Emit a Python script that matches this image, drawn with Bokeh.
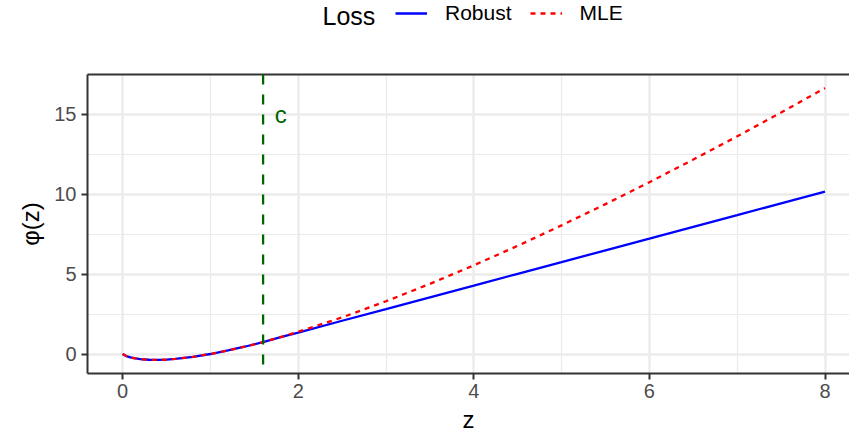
from bokeh.plotting import figure
from bokeh.models import (ColumnDataSource, FixedTicker, Label, Legend, LegendItem, Range1d,
                          LinearAxis, Span)
from bokeh.layouts import column
from bokeh.embed import file_html
from bokeh.resources import INLINE

# ---- data ----
z_vals = [0.0, 0.05, 0.1, 0.2, 0.3, 0.4, 0.5, 0.6, 0.8, 1.0, 1.2, 1.4, 1.6, 1.8, 2.0,
          2.5, 3.0, 3.5, 4.0, 4.5, 5.0, 5.5, 6.0, 6.5, 7.0, 7.5, 8.0]
mle_vals = [0.0, -0.15, -0.23, -0.32, -0.36, -0.37, -0.35, -0.31, -0.18, 0.0, 0.22, 0.47,
            0.75, 1.06, 1.39, 2.29, 3.30, 4.39, 5.55, 6.77, 8.05, 9.38, 10.75, 12.17,
            13.62, 15.11, 16.64]
robust_vals = [0.0, -0.15, -0.23, -0.32, -0.36, -0.37, -0.35, -0.31, -0.18, 0.0, 0.22, 0.47,
               0.75, 1.05, 1.34, 2.08, 2.81, 3.55, 4.28, 5.02, 5.75, 6.49, 7.22, 7.96,
               8.69, 9.43, 10.16]
c_value = 1.6
c_label = "c"
c_label_pos = [1.8, 15.0]
x_ticks = [0, 2, 4, 6, 8]
x_minor = [1, 3, 5, 7]
y_ticks = [0, 5, 10, 15]
y_minor = [2.5, 7.5, 12.5]
series_names = ["Robust", "MLE"]
series_colors = ["blue", "red"]
series_dash = ["solid", "5 5"]
legend_title = "Loss"

FONT = "Liberation Sans"
BORDER = "#333333"
LW = 2.3
FRAME_LEFT = 87

# ---------------- legend strip ----------------
LEG_H = 64
pl = figure(width=849, height=LEG_H, output_backend="svg", toolbar_location=None,
            x_axis_type=None, y_axis_type=None, x_range=Range1d(0, 1), y_range=Range1d(0, 1),
            min_border_left=0, min_border_right=0, min_border_top=0, min_border_bottom=0)
pl.outline_line_color = None
pl.xgrid.visible = False
pl.ygrid.visible = False
nan = float("nan")
leg_rends = []
for col, dash in zip(series_colors, series_dash):
    leg_rends.append(pl.line(x=[nan, nan], y=[nan, nan], line_color=col, line_width=LW,
                             line_dash=dash))
legend = Legend(items=[LegendItem(label=n, renderers=[r]) for n, r in zip(series_names, leg_rends)],
                orientation="horizontal", location=(395 - FRAME_LEFT, LEG_H - 25),
                border_line_color=None, background_fill_alpha=0,
                padding=0, margin=0, spacing=18, label_standoff=18,
                glyph_width=32, glyph_height=20, label_height=20,
                label_text_font=FONT, label_text_font_size="21px",
                label_text_color="black", label_text_baseline="middle")
pl.add_layout(legend)
pl.add_layout(Label(x=322 - FRAME_LEFT, y=LEG_H - 15, x_units="screen", y_units="screen",
                    text=legend_title, text_font=FONT, text_font_size="25px",
                    text_color="black", text_baseline="middle"))

# ---------------- main panel ----------------
src = ColumnDataSource(dict(z=z_vals, mle=mle_vals, robust=robust_vals))
p = figure(width=849, height=436 - LEG_H, output_backend="svg", toolbar_location=None,
           x_range=Range1d(-0.4, 8.279), y_range=Range1d(-1.22, 17.49),
           min_border_left=FRAME_LEFT, min_border_right=0, min_border_top=74 - LEG_H,
           min_border_bottom=63)
p.outline_line_color = None
p.background_fill_color = "white"

p.xgrid.ticker = FixedTicker(ticks=x_ticks, minor_ticks=x_minor)
p.ygrid.ticker = FixedTicker(ticks=y_ticks, minor_ticks=y_minor)
for g in (p.xgrid, p.ygrid):
    g.grid_line_color = "#EBEBEB"
    g.grid_line_width = LW
    g.minor_grid_line_color = "#EBEBEB"
    g.minor_grid_line_width = 1.2

p.xaxis.ticker = FixedTicker(ticks=x_ticks, minor_ticks=x_minor)
p.yaxis.ticker = FixedTicker(ticks=y_ticks, minor_ticks=y_minor)
for ax in (p.xaxis, p.yaxis):
    ax.axis_line_color = BORDER
    ax.axis_line_width = 2
    ax.major_tick_line_color = BORDER
    ax.major_tick_line_width = 2
    ax.major_tick_out = 6
    ax.major_tick_in = 0
    ax.minor_tick_line_color = None
    ax.major_label_text_color = "#4D4D4D"
    ax.major_label_text_font = FONT
    ax.major_label_text_font_size = "20px"
    ax.axis_label_text_font = FONT
    ax.axis_label_text_font_size = "24px"
    ax.axis_label_text_font_style = "normal"
    ax.axis_label_text_color = "black"
p.xaxis.axis_label = "z"
p.yaxis.axis_label = "φ(z)"
p.xaxis.major_label_standoff = 4
p.yaxis.major_label_standoff = 5
p.xaxis.axis_label_standoff = 5
p.yaxis.axis_label_standoff = 7

# top border of the panel
top_ax = LinearAxis(ticker=FixedTicker(ticks=[]), axis_line_color=BORDER, axis_line_width=2,
                    major_tick_line_color=None, minor_tick_line_color=None,
                    major_tick_out=0, major_tick_in=0, major_label_standoff=0,
                    major_label_text_font_size="0px")
p.add_layout(top_ax, "above")

# c line and label
p.add_layout(Span(location=c_value, dimension="height", line_color="#006400",
                  line_width=LW, line_dash="10 10"))
p.add_layout(Label(x=c_label_pos[0], y=c_label_pos[1], text=c_label, text_color="#006400",
                   text_font=FONT, text_font_size="24px", text_align="center",
                   text_baseline="middle"))

p.line("z", "robust", source=src, line_color=series_colors[0], line_width=LW)
p.line("z", "mle", source=src, line_color=series_colors[1], line_width=LW,
       line_dash=series_dash[1])

layout = column(pl, p, spacing=0)
open("out.html", "w").write(file_html(layout, INLINE))
